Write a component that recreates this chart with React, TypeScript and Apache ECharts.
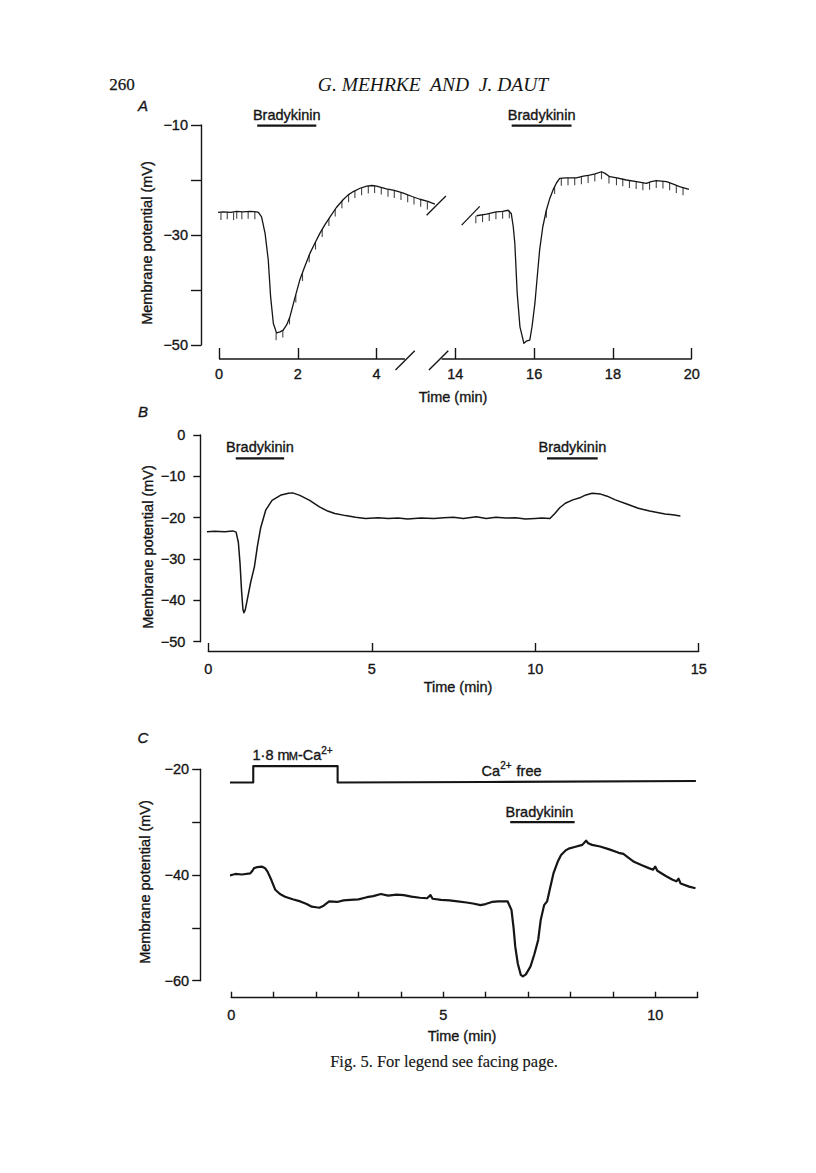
import React, { useEffect, useRef } from "react";
import * as echarts from "echarts";

// ---------------- Panel A ----------------
const aLeftTrace: number[][] = [
  [-0.04, -25.9], [0.1, -25.8], [0.3, -25.9], [0.45, -25.7], [0.6, -25.8], [0.8, -25.7], [0.95, -25.8],
  [1.0, -25.9], [1.08, -26.7], [1.17, -29.7], [1.25, -34.5], [1.31, -41.2], [1.38, -46.1], [1.46, -47.8],
  [1.55, -47.6], [1.63, -47.3], [1.72, -46.3], [1.8, -44.9], [1.92, -41.6], [2.05, -38.2], [2.18, -35.7],
  [2.31, -33.3], [2.44, -31.4], [2.56, -29.7], [2.69, -28.1], [2.82, -26.7], [2.98, -25.0], [3.15, -23.6],
  [3.28, -22.7], [3.41, -22.1], [3.58, -21.5], [3.75, -21.1], [3.88, -21.0], [4.0, -21.1], [4.25, -21.6],
  [4.45, -21.9], [4.68, -22.4], [4.9, -23.0], [5.1, -23.5], [5.3, -23.9], [5.48, -24.4],
];
const aRightTrace: number[][] = [
  [14.54, -26.5], [14.79, -26.2], [15.04, -25.8], [15.2, -25.7], [15.34, -25.5], [15.42, -26.1], [15.47, -28.5],
  [15.51, -31.5], [15.57, -40.6], [15.64, -46.7], [15.74, -49.7], [15.8, -49.3], [15.89, -49.1], [15.95, -46.5],
  [16.02, -42.4], [16.08, -37.5], [16.14, -32.7], [16.22, -28.5], [16.31, -25.5], [16.4, -23.3], [16.48, -21.8],
  [16.57, -20.5], [16.65, -19.7], [16.8, -19.6], [17.07, -19.6], [17.25, -19.3], [17.41, -19.1], [17.55, -18.9],
  [17.71, -18.5], [17.8, -18.8], [17.92, -19.4], [18.1, -19.6], [18.34, -20.0], [18.6, -20.3], [18.85, -20.6],
  [18.97, -20.3], [19.1, -20.1], [19.36, -20.3], [19.55, -20.8], [19.69, -21.2], [19.93, -21.7],
];
const aLeftPulses: number[][] = [
  [0.05, -25.9], [0.21, -25.8], [0.37, -25.9], [0.45, -25.7], [0.58, -25.8], [0.74, -25.7], [0.91, -25.8],
  [1.45, -47.8], [1.62, -47.3], [1.79, -44.9], [1.95, -40.9], [2.12, -37.0], [2.29, -33.6], [2.45, -31.3],
  [2.62, -29.0], [2.79, -27.0], [2.95, -25.3], [3.12, -23.8], [3.29, -22.7], [3.45, -21.9], [3.62, -21.4],
  [3.79, -21.1], [3.95, -21.0], [4.12, -21.3], [4.29, -21.7], [4.45, -21.9], [4.62, -22.3], [4.79, -22.7],
  [4.95, -23.1], [5.12, -23.5], [5.29, -24.0],
];
const aRightPulses: number[][] = [
  [14.52, -26.5], [14.69, -26.3], [14.86, -26.1], [15.03, -25.8], [15.2, -25.7], [15.37, -25.6], [16.31, -25.5],
  [16.52, -21.2], [16.69, -19.7], [16.86, -19.6], [17.03, -19.6], [17.2, -19.4], [17.37, -19.2], [17.54, -18.9],
  [17.71, -18.5], [17.9, -19.3], [18.09, -19.6], [18.25, -19.8], [18.42, -20.1], [18.59, -20.3], [18.76, -20.5],
  [18.93, -20.4], [19.1, -20.1], [19.27, -20.2], [19.44, -20.5], [19.61, -21.0], [19.78, -21.4],
];
const aBradykinin: number[][] = [[0.97, 2.47], [15.43, 16.95]];
const aBarLevel = -10.1;
const aTimeGap = 8; // minutes cut out of the time axis (4.x .. 14)
const aXTickLabels = ["0", "2", "4", "14", "16", "18", "20"];
const aTraceBreaks: number[][][] = [
  [[5.27, -26.4], [5.76, -22.9]],
  [[14.16, -28.2], [14.62, -24.8]],
];

// ---------------- Panel B ----------------
const bTrace: number[][] = [
  [-0.09, -23.4], [0.2, -23.3], [0.5, -23.4], [0.75, -23.2], [0.85, -23.5], [0.92, -26.0], [0.97, -31.0],
  [1.02, -38.0], [1.06, -42.2], [1.09, -43.0], [1.13, -42.3], [1.2, -39.5], [1.3, -35.5], [1.41, -31.9],
  [1.5, -27.0], [1.6, -22.5], [1.76, -18.1], [1.95, -15.8], [2.23, -14.5], [2.45, -14.1], [2.58, -14.0],
  [2.8, -14.6], [3.1, -15.8], [3.4, -17.4], [3.65, -18.4], [3.87, -19.0], [4.2, -19.5], [4.5, -19.9],
  [4.81, -20.2], [5.2, -20.0], [5.5, -20.2], [5.8, -20.1], [6.1, -20.3], [6.5, -20.1], [6.9, -20.2],
  [7.2, -20.0], [7.5, -19.9], [7.8, -20.2], [8.2, -19.8], [8.5, -20.2], [8.8, -19.9], [9.1, -20.1],
  [9.4, -20.0], [9.7, -20.3], [10.0, -20.2], [10.2, -20.1], [10.45, -20.2], [10.6, -19.0], [10.75, -17.6],
  [10.92, -16.5], [11.15, -15.7], [11.39, -15.1], [11.55, -14.5], [11.74, -14.1], [12.0, -14.3], [12.2, -14.8],
  [12.45, -15.7], [12.8, -16.7], [13.15, -17.7], [13.5, -18.4], [13.97, -19.1], [14.2, -19.3], [14.44, -19.6],
];
const bBradykinin: number[][] = [[0.84, 2.32], [10.36, 11.91]];
const bBarLevel = -5.65;

// ---------------- Panel C ----------------
const cTrace: number[][] = [
  [-0.2, -40.0], [-0.05, -40.1], [0.1, -39.8], [0.25, -39.9], [0.45, -39.7], [0.5, -39.2], [0.54, -38.7],
  [0.62, -38.5], [0.72, -38.4], [0.8, -38.7], [0.86, -39.4], [0.95, -41.0], [1.04, -42.8], [1.15, -43.6],
  [1.27, -44.1], [1.45, -44.6], [1.63, -45.0], [1.78, -45.5], [1.9, -46.0], [2.0, -46.1], [2.08, -46.2],
  [2.18, -45.8], [2.31, -45.0], [2.5, -45.1], [2.65, -44.8], [2.81, -44.7], [3.0, -44.6], [3.2, -44.2],
  [3.35, -44.0], [3.53, -43.6], [3.7, -43.9], [3.9, -43.7], [4.07, -43.8], [4.25, -44.1], [4.45, -44.3],
  [4.62, -44.4], [4.7, -43.8], [4.75, -44.5], [4.95, -44.7], [5.15, -44.8], [5.34, -45.0], [5.55, -45.2],
  [5.7, -45.4], [5.88, -45.7], [6.0, -45.5], [6.15, -45.1], [6.3, -45.0], [6.52, -45.0], [6.61, -46.6],
  [6.66, -50.0], [6.7, -53.6], [6.76, -56.8], [6.83, -58.9], [6.88, -59.2], [6.95, -58.8], [7.06, -57.3],
  [7.15, -55.0], [7.24, -52.3], [7.3, -48.5], [7.38, -45.7], [7.45, -45.0], [7.52, -42.5], [7.6, -39.7],
  [7.7, -37.5], [7.78, -36.2], [7.88, -35.4], [7.96, -35.0], [8.1, -34.7], [8.28, -34.3], [8.37, -33.5],
  [8.42, -34.0], [8.51, -34.3], [8.7, -34.6], [8.9, -35.1], [9.14, -35.8], [9.25, -36.0], [9.35, -36.6],
  [9.5, -37.5], [9.7, -38.2], [9.85, -38.7], [9.95, -39.0], [10.0, -38.4], [10.05, -39.2], [10.25, -40.2],
  [10.41, -40.9], [10.5, -41.2], [10.55, -40.7], [10.6, -41.6], [10.8, -42.2], [10.95, -42.5],
];
const cCalcium: number[][] = [
  [-0.05, -22.5], [0.52, -22.5], [0.52, -19.4], [2.51, -19.4], [2.51, -22.5], [6.0, -22.4], [10.96, -22.2],
];
const cBradykinin: number[][] = [[6.58, 8.1]];
const cBarLevel = -30.0;

// ---------------- layout ----------------
const INK = "#151515";
const SANS = "'Liberation Sans', Arial, sans-serif";
const SERIF = "'Liberation Serif', 'Times New Roman', serif";
const FS = 14.5;

type G = { left: number; top: number; width: number; height: number; xMin: number; xMax: number; yMin: number; yMax: number };
const gA: G = { left: 219, top: 125, width: 472.7, height: 220, xMin: 0, xMax: 12, yMin: -50, yMax: -10 };
const gB: G = { left: 208.3, top: 435, width: 490.4, height: 206.7, xMin: 0, xMax: 15, yMin: -50, yMax: 0 };
const gC: G = { left: 231.2, top: 769.3, width: 466.4, height: 211.4, xMin: 0, xMax: 11, yMin: -60, yMax: -20 };

const px = (g: G, t: number) => g.left + ((t - g.xMin) / (g.xMax - g.xMin)) * g.width;
const py = (g: G, v: number) => g.top + ((g.yMax - v) / (g.yMax - g.yMin)) * g.height;

const minus = (v: number) => (v < 0 ? "\u2212" + Math.abs(v) : String(v));

function buildOption() {
  const line = (i: number, data: number[][], width: number, z = 3) => ({
    type: "line",
    xAxisIndex: i,
    yAxisIndex: i,
    data,
    symbol: "none",
    showSymbol: false,
    clip: false,
    silent: true,
    z,
    lineStyle: { color: INK, width, join: "round", cap: "butt" },
  });
  const pulses = (data: number[][]) => ({
    type: "scatter",
    xAxisIndex: 0,
    yAxisIndex: 0,
    data,
    symbol: "rect",
    symbolSize: [1.1, 7.5],
    symbolOffset: [0, 3.7],
    itemStyle: { color: INK },
    silent: true,
    clip: false,
    z: 2,
  });
  const shiftA = (t: number) => (t > 10 ? t - aTimeGap : t);

  const series: any[] = [
    line(0, aLeftTrace, 1.3),
    line(0, aRightTrace.map(([t, v]) => [t - aTimeGap, v]), 1.3),
    pulses(aLeftPulses),
    pulses(aRightPulses.map(([t, v]) => [t - aTimeGap, v])),
    ...aBradykinin.map(([s, e]) => line(0, [[shiftA(s), aBarLevel], [shiftA(e), aBarLevel]], 2.2)),
    line(1, bTrace, 1.5),
    ...bBradykinin.map(([s, e]) => line(1, [[s, bBarLevel], [e, bBarLevel]], 2.2)),
    line(2, cTrace, 2.2),
    line(2, cCalcium, 2.1),
    ...cBradykinin.map(([s, e]) => line(2, [[s, cBarLevel], [e, cBarLevel]], 2.2)),
  ];

  const axisStyle = { color: INK, width: 1.4 };
  const labelBase = {
    color: INK, fontSize: FS, fontFamily: SANS,
    textBorderColor: INK, textBorderWidth: 0.35,
  };

  const xAxis: any[] = [
    {
      type: "value", gridIndex: 0, min: 0, max: 12, interval: 2, offset: 14,
      axisLine: { show: false, onZero: false },
      axisTick: { show: true, inside: true, length: 11, lineStyle: axisStyle },
      axisLabel: { ...labelBase, margin: 7, formatter: (v: number) => aXTickLabels[Math.round(v / 2)] ?? "" },
      splitLine: { show: false },
    },
    {
      type: "value", gridIndex: 1, min: 0, max: 15, interval: 5, offset: 9.3,
      axisLine: { show: true, onZero: false, lineStyle: axisStyle },
      axisTick: { show: true, inside: true, length: 8, lineStyle: axisStyle },
      axisLabel: { ...labelBase, margin: 10, formatter: (v: number) => String(v) },
      splitLine: { show: false },
    },
    {
      type: "value", gridIndex: 2, min: 0, max: 11, interval: 1, offset: 17,
      axisLine: { show: true, onZero: false, lineStyle: axisStyle },
      axisTick: { show: true, inside: true, length: 6, lineStyle: axisStyle },
      axisLabel: { ...labelBase, margin: 10, formatter: (v: number) => (v % 5 === 0 ? String(v) : "") },
      splitLine: { show: false },
    },
  ];
  const yAxis: any[] = [
    {
      type: "value", gridIndex: 0, min: -50, max: -10, interval: 10, offset: 18,
      axisLine: { show: true, onZero: false, lineStyle: axisStyle },
      axisTick: { show: true, length: 10, lineStyle: axisStyle },
      axisLabel: { ...labelBase, margin: 13, formatter: (v: number) => (Math.abs(v) % 20 === 10 ? minus(v) : "") },
      splitLine: { show: false },
    },
    {
      type: "value", gridIndex: 1, min: -50, max: 0, interval: 10, offset: 8,
      axisLine: { show: true, onZero: false, lineStyle: axisStyle },
      axisTick: { show: true, length: 7, lineStyle: axisStyle },
      axisLabel: { ...labelBase, margin: 15, formatter: (v: number) => minus(v) },
      splitLine: { show: false },
    },
    {
      type: "value", gridIndex: 2, min: -60, max: -20, interval: 10, offset: 31,
      axisLine: { show: true, onZero: false, lineStyle: axisStyle },
      axisTick: { show: true, length: 8, lineStyle: axisStyle },
      axisLabel: { ...labelBase, margin: 11, formatter: (v: number) => (Math.abs(v) % 20 === 0 ? minus(v) : "") },
      splitLine: { show: false },
    },
  ];
  const grid = [gA, gB, gC].map((g) => ({ left: g.left, top: g.top, width: g.width, height: g.height, containLabel: false }));

  const txt = (x: number, y: number, text: string, extra: any = {}, rotation = 0) => ({
    type: "text",
    x, y, rotation,
    silent: true,
    style: {
      text, fill: INK, fontSize: FS, fontFamily: SANS, align: "center", verticalAlign: "middle",
      stroke: INK, lineWidth: 0.35, ...extra,
    },
  });
  const seg = (x1: number, y1: number, x2: number, y2: number, w = 1.4) => ({
    type: "line", silent: true,
    shape: { x1, y1, x2, y2 },
    style: { stroke: INK, lineWidth: w },
  });
  const serif = { fontFamily: SERIF, stroke: INK, lineWidth: 0.25 };

  const aAxisY = py(gA, gA.yMin) + 14;
  const graphic: any[] = [
    // page header
    txt(122, 84, "260", { ...serif, fontSize: 17 }),
    txt(433, 84, "G. MEHRKE  AND  J. DAUT", { ...serif, fontSize: 19.5, fontStyle: "italic", lineWidth: 0 , stroke: "none"}),
    // panel letters
    txt(143, 105, "A", { fontStyle: "italic", fontSize: 15 }),
    txt(143, 411, "B", { fontStyle: "italic", fontSize: 15 }),
    txt(143, 737, "C", { fontStyle: "italic", fontSize: 15 }),
    // y titles
    txt(147, 243, "Membrane potential (mV)", {}, Math.PI / 2),
    txt(148, 547, "Membrane potential (mV)", {}, Math.PI / 2),
    txt(145, 882, "Membrane potential (mV)", {}, Math.PI / 2),
    // x titles
    txt(453, 397, "Time (min)"),
    txt(458, 687, "Time (min)"),
    txt(462, 1036, "Time (min)"),
    // panel A broken time axis
    seg(px(gA, 0), aAxisY, px(gA, 4.72), aAxisY),
    seg(px(gA, 5.65), aAxisY, px(gA, 12), aAxisY),
    seg(px(gA, 4.48), aAxisY + 11, px(gA, 4.97), aAxisY - 8.3),
    seg(px(gA, 5.33), aAxisY + 11, px(gA, 5.82), aAxisY - 8.3),
    // panel A trace break marks
    ...aTraceBreaks.map(([[t1, v1], [t2, v2]]) =>
      seg(px(gA, shiftA(t1)), py(gA, v1), px(gA, shiftA(t2)), py(gA, v2), 1.3)
    ),
    // Bradykinin labels
    ...aBradykinin.map(([s, e]) => txt(px(gA, (shiftA(s) + shiftA(e)) / 2), py(gA, aBarLevel) - 11, "Bradykinin")),
    ...bBradykinin.map(([s, e]) => txt(px(gB, (s + e) / 2), py(gB, bBarLevel) - 11, "Bradykinin")),
    ...cBradykinin.map(([s, e]) => txt(px(gC, (s + e) / 2 - 0.07), py(gC, cBarLevel) - 10.6, "Bradykinin")),
    // Ca annotations: "1·8 mM-Ca" with a small-capital M, then a raised "2+"
    txt(252.5, 755, "1\u00b78 m", { align: "left" }),
    txt(288.8, 756, "M", { align: "left", fontSize: 11 }),
    txt(298, 755, "-Ca", { align: "left" }),
    txt(321.3, 750, "2+", { align: "left", fontSize: 10 }),
    txt(500, 770.7, "Ca", { align: "right" }),
    txt(500.3, 765.5, "2+", { align: "left", fontSize: 10 }),
    txt(512.5, 770.7, " free", { align: "left" }),
    // caption
    txt(444, 1061, "Fig. 5. For legend see facing page.", { ...serif, fontSize: 16.5, lineWidth: 0.15 }),
  ];

  return {
    animation: false,
    backgroundColor: "#ffffff",
    grid,
    xAxis,
    yAxis,
    series,
    graphic: { elements: graphic },
  };
}

export default function App() {
  const ref = useRef<HTMLDivElement>(null);
  useEffect(() => {
    if (!ref.current) return;
    const chart = echarts.init(ref.current, null, { renderer: "svg", width: 816, height: 1173 });
    chart.setOption(buildOption() as any);
    return () => chart.dispose();
  }, []);
  return (
    <div
      ref={ref}
      style={{ position: "absolute", left: 0, top: 0, width: 816, height: 1173, background: "#fff" }}
    />
  );
}
